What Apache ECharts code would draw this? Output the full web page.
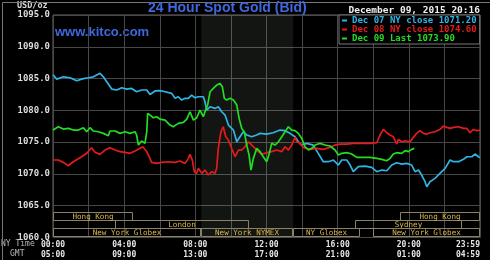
<!DOCTYPE html>
<html><head><meta charset="utf-8">
<script src="https://cdn.jsdelivr.net/npm/echarts@6/dist/echarts.min.js"></script>
<style>html,body{margin:0;padding:0;background:#000;}#c{width:490px;height:260px;}</style>
</head><body><div id="c"></div>
<script>
// ---- data ----
const nyLabels  = ['00:00','04:00','08:00','12:00','16:00','20:00','23:59'];
const gmtLabels = ['05:00','09:00','13:00','17:00','21:00','01:00','04:59'];
const yTicks = [1060, 1065, 1070, 1075, 1080, 1085, 1090, 1095];

const seriesNames = ['Dec 07 NY close 1071.20', 'Dec 08 NY close 1074.60', 'Dec 09 Last 1073.90'];

const dec07Hours = [0,0.21,0.58,0.96,1.33,1.71,1.99,2.27,2.64,2.83,3.02,3.30,3.58,3.86,4.14,4.42,4.70,4.98,5.27,5.45,5.73,6.01,6.30,6.67,6.86,7.04,7.23,7.42,7.61,7.79,7.98,8.17,8.45,8.54,8.64,8.83,9.11,9.29,9.48,9.67,9.86,10.14,10.33,10.51,10.70,10.89,11.17,11.45,11.64,12.01,12.38,12.76,13.04,13.32,13.60,13.79,13.98,14.26,14.63,14.91,15.19,15.48,15.76,16.04,16.23,16.51,16.70,16.88,17.16,17.54,17.91,18.20,18.48,18.76,19.04,19.32,19.60,19.88,20.16,20.35,20.54,20.72,20.91,21.01,21.19,21.47,21.75,22.04,22.32,22.51,22.79,23.07,23.26,23.54,23.72,23.91,24];
const dec07Values = [1085.6,1084.92,1085.28,1085.13,1084.66,1085.0,1085.13,1085.28,1085.82,1085.28,1084.5,1083.35,1083.2,1083.55,1083.35,1083.45,1082.93,1083.2,1083.2,1082.5,1083.05,1083.1,1082.93,1082.67,1081.89,1082.14,1081.62,1081.89,1081.89,1082.4,1081.98,1082.14,1082.14,1081.35,1080.05,1080.57,1080.31,1080.57,1079.78,1079.26,1077.69,1076.9,1075.06,1075.85,1076.64,1076.12,1075.85,1076.12,1076.38,1076.27,1076.48,1076.9,1076.8,1076.38,1075.85,1075.06,1074.54,1074.81,1074.54,1073.24,1071.92,1071.92,1072.19,1071.4,1072.19,1072.19,1071.4,1070.35,1071.14,1071.24,1071.04,1070.35,1070.61,1070.5,1071.4,1071.76,1071.55,1071.66,1071.4,1070.35,1070.61,1069.83,1068.78,1067.99,1068.78,1069.3,1070.09,1070.88,1072.19,1071.92,1071.92,1072.3,1072.7,1072.7,1073.13,1072.7,1072.6];

const dec08Hours = [0,0.30,0.58,0.86,1.14,1.52,1.89,2.17,2.36,2.64,2.92,3.20,3.49,3.77,4.05,4.33,4.61,4.89,5.04,5.27,5.45,5.54,5.83,6.11,6.48,6.86,7.14,7.42,7.61,7.70,7.83,7.94,8.08,8.17,8.36,8.54,8.73,8.92,9.11,9.20,9.29,9.44,9.57,9.71,9.86,10.04,10.23,10.42,10.61,10.79,10.98,11.17,11.36,11.54,11.73,12.01,12.29,12.57,12.86,13.04,13.23,13.42,13.60,13.70,13.88,14.07,14.45,14.82,15.19,15.57,15.85,16.13,16.51,16.88,17.26,17.82,18.20,18.38,18.57,18.76,18.94,19.13,19.32,19.41,19.60,19.79,20.07,20.25,20.44,20.63,20.82,21.01,21.19,21.47,21.75,21.94,22.13,22.32,22.51,22.79,23.07,23.26,23.44,23.63,23.82,24];
const dec08Values = [1072.19,1072.19,1071.82,1071.29,1071.92,1072.55,1073.24,1074.12,1073.4,1073.08,1073.76,1074.12,1073.76,1073.5,1073.4,1073.24,1073.6,1074.02,1074.28,1073.5,1072.45,1071.82,1071.66,1071.82,1071.92,1071.82,1072.03,1071.66,1072.45,1073.08,1072.19,1070.35,1070.09,1070.88,1070.09,1070.61,1069.83,1070.35,1070.09,1070.88,1074.02,1076.64,1077.42,1075.85,1075.33,1074.02,1072.7,1073.76,1073.76,1074.28,1075.06,1074.54,1074.02,1073.5,1073.1,1073.34,1073.5,1073.76,1073.5,1074.28,1073.76,1074.54,1075.75,1075.06,1074.81,1074.18,1073.87,1074.02,1073.87,1074.18,1074.54,1074.7,1074.7,1074.81,1074.81,1074.81,1074.91,1076.12,1077.0,1076.48,1076.12,1075.85,1074.7,1075.44,1075.06,1075.22,1075.06,1075.75,1076.38,1076.8,1076.38,1076.27,1076.48,1076.64,1077.0,1077.53,1077.32,1077.16,1077.32,1077.42,1077.16,1077.16,1076.48,1077.0,1076.8,1076.9];

const dec09Hours = [0,0.11,0.30,0.58,0.86,1.14,1.42,1.71,1.89,2.08,2.27,2.55,2.83,3.11,3.20,3.49,3.77,4.05,4.33,4.61,4.70,4.80,4.98,5.17,5.27,5.32,5.45,5.64,5.83,6.01,6.30,6.58,6.76,7.04,7.33,7.52,7.70,7.89,8.08,8.26,8.45,8.54,8.69,8.83,9.01,9.20,9.39,9.52,9.63,9.76,9.95,10.14,10.33,10.46,10.61,10.75,10.89,11.02,11.13,11.26,11.45,11.64,11.82,12.01,12.16,12.29,12.48,12.67,12.86,13.04,13.23,13.42,13.60,13.79,13.98,14.17,14.35,14.54,14.73,15.01,15.29,15.57,15.85,16.04,16.23,16.51,16.79,17.07,17.44,17.82,18.20,18.48,18.76,18.94,19.13,19.32,19.60,19.79,19.98,20.16,20.31];
const dec09Values = [1076.9,1076.64,1077.42,1077.06,1077.16,1076.9,1076.9,1077.27,1076.64,1077.27,1076.75,1076.64,1076.38,1076.0,1076.75,1076.75,1076.38,1076.64,1076.38,1076.64,1076.12,1074.54,1075.17,1074.81,1076.64,1079.52,1079.26,1078.84,1079.0,1078.63,1078.47,1077.69,1077.42,1077.95,1078.11,1078.63,1079.78,1078.47,1078.84,1080.05,1079.0,1079.78,1080.83,1082.93,1083.45,1083.98,1084.24,1083.71,1081.89,1081.62,1081.89,1081.62,1080.83,1078.74,1077.16,1076.64,1074.54,1072.97,1070.61,1072.45,1074.02,1073.5,1072.7,1071.92,1073.24,1074.81,1074.54,1075.06,1075.85,1076.64,1077.42,1076.9,1076.8,1076.38,1075.6,1074.28,1073.76,1074.02,1074.54,1074.81,1074.54,1074.39,1073.76,1072.97,1073.24,1073.34,1073.13,1072.6,1072.6,1072.6,1072.45,1072.3,1072.08,1072.45,1073.13,1073.34,1073.24,1073.66,1073.5,1073.87,1074.02];

// market sessions (NY time hours)
const sessionNames = ['Hong Kong','London','New York Globex','New York NYMEX','NY Globex','Sydney','Hong Kong','New York Globex'];
const sessionStart = [0, 3.5, 0, 8.333, 13.5, 17, 19.5, 18];
const sessionEnd   = [4.5, 11, 8.333, 13.5, 17.25, 23, 24, 24];
const sessionRow   = [0, 1, 2, 2, 2, 1, 0, 2];
const nymexOpen = 8.333, nymexClose = 13.5;

// ---- chart ----
const MONO = '"DejaVu Sans Mono", monospace';
const colors = ['#2fb4e6', '#e51b1b', '#22dd22'];
const rowEdges = [1064.0, 1062.75, 1061.5, 1060.25];

function pairs(h, v) { return h.map((x, i) => [x, v[i]]); }

const chart = echarts.init(document.getElementById('c'), null, {renderer: 'canvas'});

const lineSeries = [[dec07Hours, dec07Values], [dec08Hours, dec08Values], [dec09Hours, dec09Values]].map((d, i) => ({
  name: seriesNames[i],
  type: 'line',
  data: pairs(d[0], d[1]),
  showSymbol: false,
  symbol: 'none',
  lineStyle: {color: colors[i], width: 1.7},
  itemStyle: {color: colors[i]},
  z: 5,
  silent: true,
  animation: false
}));

lineSeries[0].markArea = {
  silent: true,
  itemStyle: {color: 'rgba(200,230,200,0.09)'},
  data: [[{xAxis: nymexOpen}, {xAxis: nymexClose}]]
};

const sessionSeries = {
  type: 'custom',
  silent: true,
  clip: false,
  z: 6,
  animation: false,
  data: sessionNames.map((n, i) => [sessionStart[i], sessionEnd[i], sessionRow[i]]),
  renderItem: function (params, api) {
    const s = api.value(0), e = api.value(1), r = api.value(2);
    const p1 = api.coord([s, rowEdges[r]]);
    const p2 = api.coord([e, rowEdges[r + 1]]);
    const x = Math.round(p1[0]) + 0.5, y = Math.round(p1[1]) + 0.5;
    const w = Math.round(p2[0]) - Math.round(p1[0]) - 1;
    const h = Math.round(p2[1]) - Math.round(p1[1]);
    return {
      type: 'group',
      children: [
        {type: 'rect', shape: {x: x, y: y, width: w, height: h},
         style: {fill: null, stroke: '#8a8262', lineWidth: 1}},
        {type: 'text', style: {text: sessionNames[params.dataIndex], x: x + w / 2, y: y + h / 2 + 0.5,
          align: 'center', verticalAlign: 'middle', fill: '#d9b84e',
          font: '7.6px ' + MONO}}
      ]
    };
  }
};

chart.setOption({
  backgroundColor: '#000',
  animation: false,
  title: {
    text: '24 Hour Spot Gold (Bid)', left: 148, top: 1, padding: 0,
    textStyle: {color: '#3f68de', fontSize: 14, fontWeight: 'bold', fontFamily: 'Liberation Sans'}
  },
  legend: {
    orient: 'vertical', left: 339, top: 15, itemGap: 0, itemWidth: 5, itemHeight: 2,
    icon: 'rect', padding: [1, 3, 1, 3], backgroundColor: '#000', borderColor: '#777', borderWidth: 1,
    selectedMode: false,
    textStyle: {fontFamily: MONO, fontSize: 9, fontWeight: 'bold', lineHeight: 8},
    data: seriesNames.map((n, i) => ({name: n, textStyle: {color: colors[i]}, itemStyle: {color: colors[i]}}))
  },
  grid: {left: 53, right: 10, top: 15, bottom: 22.5, show: true, borderColor: '#6a6a6a', borderWidth: 1, backgroundColor: '#000'},
  xAxis: {
    type: 'value', min: 0, max: 24, interval: 2,
    axisLine: {show: false}, axisTick: {show: false},
    splitLine: {show: true, lineStyle: {color: '#484848', width: 1}},
    axisLabel: {
      color: '#e6e6e6', fontFamily: MONO, fontSize: 8, fontWeight: 'bold', lineHeight: 10, margin: 2,
      alignMaxLabel: 'right',
      formatter: function (v) {
        if (v % 4 !== 0) return '';
        const i = v / 4;
        return nyLabels[i] + '\n' + gmtLabels[i];
      }
    }
  },
  yAxis: {
    type: 'value', min: yTicks[0], max: yTicks[yTicks.length - 1], interval: 5,
    axisLine: {show: false}, axisTick: {show: false},
    splitLine: {show: true, lineStyle: {color: '#484848', width: 1}},
    axisLabel: {color: '#dcdcdc', fontFamily: MONO, fontSize: 9, fontWeight: 'bold', margin: 3,
      formatter: v => v.toFixed(1)}
  },
  graphic: [
    {type: 'text', left: 55, top: 26, style: {text: 'www.kitco.com', fill: '#3f68de', font: 'bold 13px "Liberation Sans"'}},
    {type: 'text', left: 17, top: 1, style: {text: 'USD/oz', fill: '#d8d8d8', font: 'bold 8.5px ' + MONO}},
    {type: 'text', right: 10, top: 6, style: {text: 'December 09, 2015 20:16', fill: '#f0f0f0', font: 'bold 9.5px ' + MONO}},
    {type: 'text', left: 1, top: 240, style: {text: 'NY Time', fill: '#b8b8b8', font: '8px ' + MONO}},
    {type: 'text', left: 10, top: 250, style: {text: 'GMT', fill: '#b8b8b8', font: '8px ' + MONO}},
    {type: 'rect', left: 0, top: 0, shape: {width: 489, height: 259}, style: {fill: null, stroke: '#777', lineWidth: 1}, silent: true}
  ],
  series: lineSeries.concat([sessionSeries])
});
</script>
</body></html>
